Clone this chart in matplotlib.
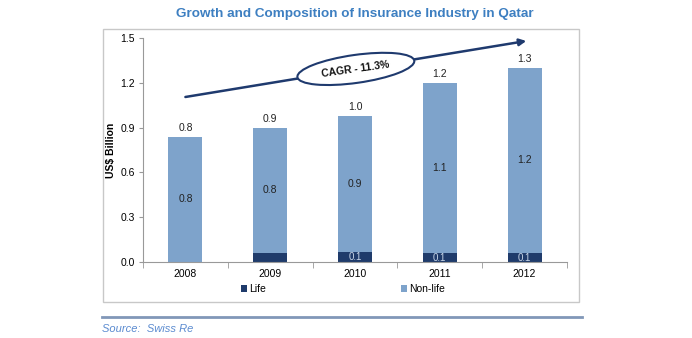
import matplotlib
matplotlib.use('Agg')
import matplotlib.pyplot as plt
from matplotlib.patches import Ellipse, Patch, Rectangle
from matplotlib.lines import Line2D
from matplotlib.transforms import ScaledTranslation

plt.rcParams['font.family'] = ['Liberation Sans', 'DejaVu Sans']

# premiums in US$ billion
years = ['2008', '2009', '2010', '2011', '2012']
life = [0.0, 0.06, 0.065, 0.06, 0.06]
non_life = [0.84, 0.84, 0.915, 1.14, 1.24]
life_labelled = [False, False, True, True, True]
cagr_text = 'CAGR - 11.3%'
source_text = 'Source:  Swiss Re'

NONLIFE_COL = '#7ea3cb'
LIFE_COL = '#1f3b6b'
NAVY = '#1f3a6e'

fig = plt.figure(figsize=(6.92, 3.38), dpi=100)

# outer frame and title rule
W, H = 692.0, 338.0
fig.patches.append(Rectangle((103 / W, 1 - 302 / H), 476 / W, 273 / H,
                             transform=fig.transFigure, fill=False,
                             edgecolor='#c8c8c8', linewidth=1.0))
fig.text(355 / W, 1 - 14 / H, 'Growth and Composition of Insurance Industry in Qatar',
         ha='center', va='center', fontsize=9.7, fontweight='bold', color='#3d7fc1')

ax = fig.add_axes([143 / W, 1 - 262 / H, 424 / W, 224 / H])
x = list(range(len(years)))
totals = [l + n for l, n in zip(life, non_life)]

ax.bar(x, life, width=0.4, color=LIFE_COL, label='Life', zorder=2)
ax.bar(x, non_life, width=0.4, bottom=life, color=NONLIFE_COL, label='Non-life', zorder=2)

for i in x:
    ax.text(i, totals[i] + 0.025, '{:.1f}'.format(totals[i]), ha='center', va='bottom',
            fontsize=7.5, color='#222222')
    ax.text(i, life[i] + non_life[i] / 2, '{:.1f}'.format(non_life[i]), ha='center',
            va='center', fontsize=7.5, color='#222222')
    if life_labelled[i]:
        ax.text(i, life[i] / 2, '{:.1f}'.format(life[i]), ha='center', va='center',
                fontsize=7, color='#c9d6e8')

ax.set_xlim(-0.5, 4.5)
ax.set_ylim(0, 1.5)
ax.set_yticks([0, 0.3, 0.6, 0.9, 1.2, 1.5])
ax.set_yticklabels(['{:.1f}'.format(v) for v in ax.get_yticks()])
ax.set_xticks(x)
ax.set_xticklabels(years)
ax.set_xticks([i + 0.5 for i in range(-1, len(years))], minor=True)
ax.tick_params(axis='x', which='major', length=0, pad=5, labelsize=7.5)
ax.tick_params(axis='x', which='minor', length=4, color='#999999', direction='out')
ax.tick_params(axis='y', length=3, color='#999999', labelsize=7.5, pad=3)
for s in ['top', 'right']:
    ax.spines[s].set_visible(False)
for s in ['left', 'bottom']:
    ax.spines[s].set_color('#999999')
    ax.spines[s].set_linewidth(0.8)
ax.set_ylabel('US$ Billion', fontsize=7.5, fontweight='bold', labelpad=3)

# growth arrow with CAGR ellipse
ax.annotate('', xy=(4.02, 1.48), xytext=(0.0, 1.105),
            arrowprops=dict(arrowstyle='-|>', color=NAVY, lw=1.8,
                            mutation_scale=10, shrinkA=0, shrinkB=0), zorder=3)
cx, cy = 2.01, 1.293
ell_tr = fig.dpi_scale_trans + ScaledTranslation(cx, cy, ax.transData)
ax.add_patch(Ellipse((0, 0), 1.18, 0.28, angle=8, transform=ell_tr,
                     facecolor='white', edgecolor=NAVY, linewidth=1.5, zorder=4))
ax.text(cx, cy, cagr_text, ha='center', va='center', rotation=8, fontsize=7.5,
        fontweight='bold', color='#111111', zorder=5)

handles = [Patch(facecolor=LIFE_COL), Patch(facecolor=NONLIFE_COL)]
fig.legend(handles, ['Life', 'Non-life'], loc='center', ncol=2,
           bbox_to_anchor=(343 / W, 1 - 289 / H), frameon=False, fontsize=7.5,
           handlelength=0.6, handleheight=0.6, handletextpad=0.2,
           columnspacing=12.9)

# source footer
fig.lines.append(Line2D([102 / W, 582 / W], [1 - 317 / H, 1 - 317 / H],
                        transform=fig.transFigure, color='#8197b8', linewidth=2))
fig.text(102 / W, 1 - 329 / H, source_text, ha='left', va='center', fontsize=8,
         style='italic', color='#5b8bd0')

fig.savefig('out.png', dpi=100)
